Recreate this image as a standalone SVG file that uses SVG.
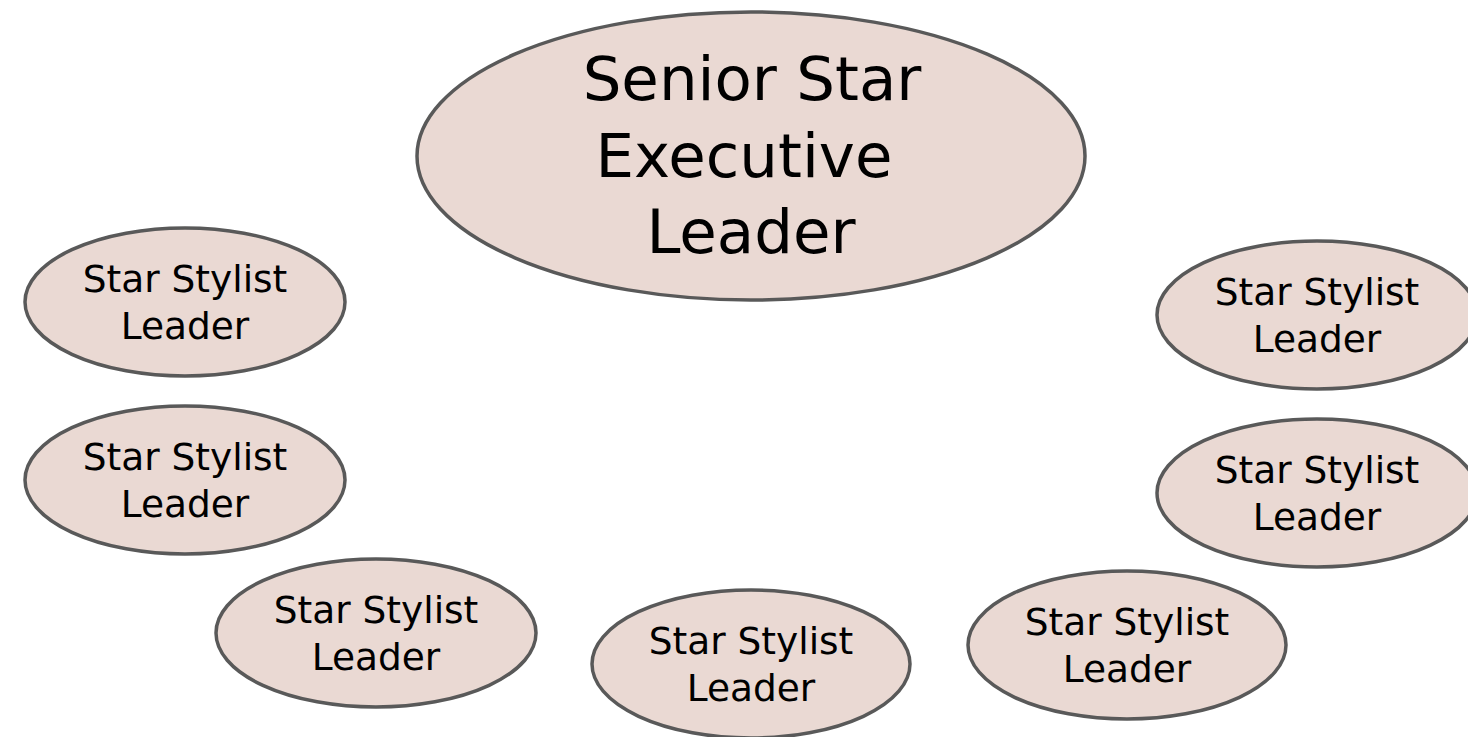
<svg xmlns="http://www.w3.org/2000/svg" width="1468" height="737" viewBox="0 0 1468 737">
<style>
.n{fill:#EAD9D3;stroke:#595959;stroke-width:3.5}
.t{font-family:"DejaVu Sans","Liberation Sans",sans-serif;fill:#000;text-anchor:middle}
.s{font-size:37.5px}
.b{font-size:61px}
</style>
<rect width="1468" height="737" fill="#FFFFFF"/>
<g id="connectors"></g>
<g id="senior">
<ellipse class="n" cx="751" cy="156" rx="334" ry="144"/>
<text class="t b" x="752" y="100">Senior Star</text>
<text class="t b" x="744" y="177">Executive</text>
<text class="t b" x="751" y="253">Leader</text>
</g>
<g id="leader1">
<ellipse class="n" cx="185" cy="302" rx="160" ry="74"/>
<text class="t s" x="185" y="292">Star Stylist</text>
<text class="t s" x="185" y="339">Leader</text>
</g>
<g id="leader2">
<ellipse class="n" cx="185" cy="480" rx="160" ry="74"/>
<text class="t s" x="185" y="470">Star Stylist</text>
<text class="t s" x="185" y="517">Leader</text>
</g>
<g id="leader3">
<ellipse class="n" cx="376" cy="633" rx="160" ry="74"/>
<text class="t s" x="376" y="623">Star Stylist</text>
<text class="t s" x="376" y="670">Leader</text>
</g>
<g id="leader4">
<ellipse class="n" cx="751" cy="664" rx="159" ry="74"/>
<text class="t s" x="751" y="654">Star Stylist</text>
<text class="t s" x="751" y="701">Leader</text>
</g>
<g id="leader5">
<ellipse class="n" cx="1127" cy="645" rx="159" ry="74"/>
<text class="t s" x="1127" y="635">Star Stylist</text>
<text class="t s" x="1127" y="682">Leader</text>
</g>
<g id="leader6">
<ellipse class="n" cx="1317" cy="315" rx="160" ry="74"/>
<text class="t s" x="1317" y="305">Star Stylist</text>
<text class="t s" x="1317" y="352">Leader</text>
</g>
<g id="leader7">
<ellipse class="n" cx="1317" cy="493" rx="160" ry="74"/>
<text class="t s" x="1317" y="483">Star Stylist</text>
<text class="t s" x="1317" y="530">Leader</text>
</g>
</svg>
